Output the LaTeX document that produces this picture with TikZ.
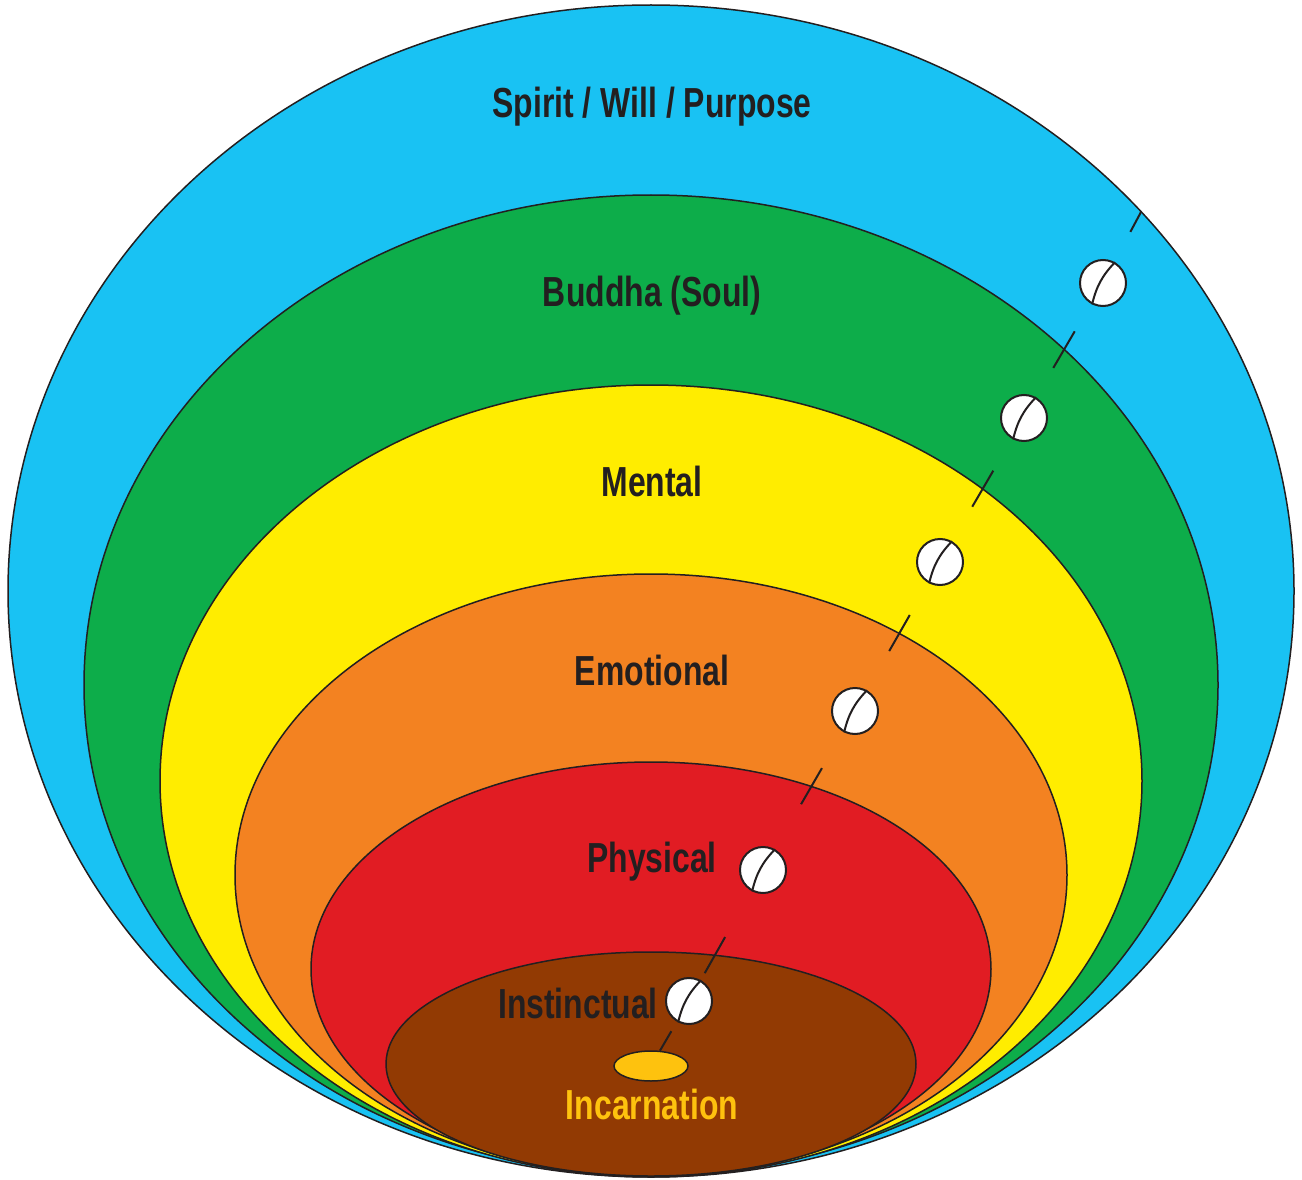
\documentclass[tikz,border=0pt]{standalone}
\usepackage{fontspec}
\usetikzlibrary{shapes.geometric}
\newfontfamily\lblfont{Liberation Sans}[FakeStretch=0.76]
\definecolor{spirit}{RGB}{25,194,243}
\definecolor{buddha}{RGB}{13,173,74}
\definecolor{mental}{RGB}{255,237,0}
\definecolor{emotion}{RGB}{243,130,33}
\definecolor{phys}{RGB}{225,28,35}
\definecolor{instinct}{RGB}{146,58,3}
\definecolor{incarn}{RGB}{254,194,14}
\definecolor{ink}{RGB}{35,31,32}
\tikzset{
  plane/.style={draw=ink,line width=1.5pt},
  lbl/.style={font=\lblfont\bfseries\fontsize{42}{48}\selectfont,text=ink,anchor=base},
  bead/.style={circle,draw=ink,fill=white,line width=2pt,minimum size=46pt,inner sep=0pt},
  tick/.style={draw=ink,line width=2pt}
}
\begin{document}
\begin{tikzpicture}[x=1pt,y=-1pt]
\useasboundingbox (0,0) rectangle (1302,1180);
% nested planes
\foreach \c/\y/\rx/\ry in {spirit/591/643/586,buddha/685/567/490,mental/781/491/396,
  emotion/875/416/301,phys/969/340/207,instinct/1064/265/112}
  \filldraw[plane,fill=\c](651,\y) ellipse[x radius=\rx pt,y radius=\ry pt];
\node[ellipse,draw=ink,line width=1.5pt,fill=incarn,minimum width=74pt,minimum height=30pt,inner sep=0pt] (seed) at (651,1066) {};
% labels
\foreach \n/\x/\y/\t in {lspirit/652/118/{Spirit / Will / Purpose},lbuddha/652/306/{Buddha (Soul)},
  lmental/652/496/Mental,lemotion/652/685/Emotional,lphys/652/872/Physical,linstinct/578/1018/Instinctual}
  \node[lbl] (\n) at (\x,\y) {\t};
\node[lbl,text=incarn] (lincarn) at (652,1119) {Incarnation};
% beads
\foreach \n/\x/\y in {b1/1103/283,b2/1024/418,b3/940/562,b4/855/711,b5/763/870,b6/689/1001}{
  \node[bead] (\n) at (\x,\y) {};
  \draw[ink,line width=2pt] (\n.60) to[bend right=15] (\n.243);
}
\coordinate (rim) at (1141,212);
\draw[tick,shorten >=34pt] (rim) -- (b1);
\foreach \a/\b/\s/\e in {b1/b2/32/34,b2/b3/37/40,b3/b4/37/45,b4/b5/42/52,b5/b6/53/8}
  \draw[tick,shorten <=\s pt,shorten >=\e pt] (\a) -- (\b);
\draw[tick,shorten <=11pt] (b6) -- (seed);
\end{tikzpicture}
\end{document}
